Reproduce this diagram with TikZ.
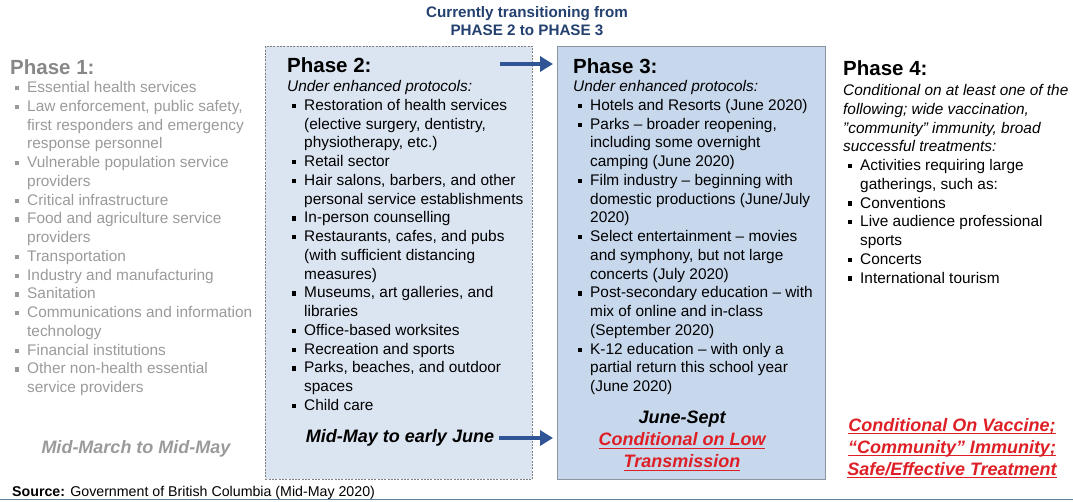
\documentclass[tikz,border=0pt]{standalone}
\usepackage{fontspec}
\setmainfont{Liberation Sans}
\usepackage{xcolor}
\usetikzlibrary{arrows.meta, positioning, calc}

\definecolor{phaseonegray}{HTML}{9A9A9A}
\definecolor{phaseonehead}{HTML}{878787}
\definecolor{titleblue}{HTML}{23406F}
\definecolor{arrowblue}{HTML}{2F5597}
\definecolor{boxtwofill}{HTML}{DBE4F1}
\definecolor{boxthreefill}{HTML}{C7D7EC}
\definecolor{boxthreeline}{HTML}{8C96A3}
\definecolor{condred}{HTML}{DE2026}
\definecolor{rulecol}{HTML}{5E7F9E}

\newsavebox{\ulbox}
\newcommand{\redul}[1]{\sbox{\ulbox}{#1}\rlap{\rule[-2.8pt]{\wd\ulbox}{1.1pt}}\usebox{\ulbox}}
\newcommand{\sqbul}{\hspace*{5pt}\makebox[12pt][l]{\rule[2.4pt]{4.2pt}{4.2pt}}}
\newcommand{\indl}{\hspace*{17pt}}

\begin{document}
\begin{tikzpicture}[x=1pt, y=-1pt,
    phasehead/.style={anchor=base west, inner sep=0pt, font=\bfseries\fontsize{20.5}{24}\selectfont},
    phasebody/.style={anchor=north west, inner sep=0pt, align=left, font=\fontsize{15.4}{18.75}\selectfont},
    datelabel/.style={inner sep=0pt, align=center, font=\bfseries\itshape\fontsize{18}{22}\selectfont},
    phasearrow/.style={arrowblue, line width=3.8pt, -{Triangle[length=13pt, width=15pt]}}]
      \useasboundingbox (0, 0) rectangle (1073, 501);

      \node[titleblue, align=center, inner sep=0pt, font=\bfseries\fontsize{15.2}{18}\selectfont] (title) at (527, 21.5)
        {Currently transitioning from\\PHASE 2 to PHASE 3};

      \node[draw=gray, dash pattern=on 2pt off 1.3pt, line width=0.8pt, fill=boxtwofill,
            minimum width=267pt, minimum height=433pt, anchor=north west, inner sep=0pt] (box2) at (265, 46) {};
      \node[draw=boxthreeline, line width=1.2pt, fill=boxthreefill,
            minimum width=268pt, minimum height=433pt, anchor=north west, inner sep=0pt] (box3) at (557, 46) {};

      % Phase 1
      \node[phasehead, phaseonehead] (head1) at (10, 74) {Phase 1:};
      \node[phasebody, phaseonegray] (body1) at (10, 81.3) {%
        \sqbul Essential health services\\
        \sqbul Law enforcement, public safety,\\
        \indl first responders and emergency\\
        \indl response personnel\\
        \sqbul Vulnerable population service\\
        \indl providers\\
        \sqbul Critical infrastructure\\
        \sqbul Food and agriculture service\\
        \indl providers\\
        \sqbul Transportation\\
        \sqbul Industry and manufacturing\\
        \sqbul Sanitation\\
        \sqbul Communications and information\\
        \indl technology\\
        \sqbul Financial institutions\\
        \sqbul Other non-health essential\\
        \indl service providers};
      \node[datelabel, phaseonegray] (date1) at (136, 449) {Mid-March to Mid-May};

      % Phase 2
      \node[phasehead] (head2) at (287, 72) {Phase 2:};
      \node[phasebody] (body2) at (287, 80.3) {%
        {\itshape Under enhanced protocols:}\\
        \sqbul Restoration of health services\\
        \indl (elective surgery, dentistry,\\
        \indl physiotherapy, etc.)\\
        \sqbul Retail sector\\
        \sqbul Hair salons, barbers, and other\\
        \indl personal service establishments\\
        \sqbul In-person counselling\\
        \sqbul Restaurants, cafes, and pubs\\
        \indl (with sufficient distancing\\
        \indl measures)\\
        \sqbul Museums, art galleries, and\\
        \indl libraries\\
        \sqbul Office-based worksites\\
        \sqbul Recreation and sports\\
        \sqbul Parks, beaches, and outdoor\\
        \indl spaces\\
        \sqbul Child care};
      \node[datelabel] (date2) at (400, 438) {Mid-May to early June};

      % Phase 3
      \node[phasehead] (head3) at (573, 73) {Phase 3:};
      \node[phasebody] (body3) at (573, 80.3) {%
        {\itshape Under enhanced protocols:}\\
        \sqbul Hotels and Resorts (June 2020)\\
        \sqbul Parks – broader reopening,\\
        \indl including some overnight\\
        \indl camping (June 2020)\\
        \sqbul Film industry – beginning with\\
        \indl domestic productions (June/July\\
        \indl 2020)\\
        \sqbul Select entertainment – movies\\
        \indl and symphony, but not large\\
        \indl concerts (July 2020)\\
        \sqbul Post-secondary education – with\\
        \indl mix of online and in-class\\
        \indl (September 2020)\\
        \sqbul K-12 education – with only a\\
        \indl partial return this school year\\
        \indl (June 2020)};
      \node[datelabel] (date3) at (682, 441)
        {June-Sept\\\textcolor{condred}{\redul{Conditional on Low}}\\\textcolor{condred}{\redul{Transmission}}};

      % Phase 4
      \node[phasehead] (head4) at (843, 75) {Phase 4:};
      \node[phasebody] (body4) at (843, 84.2) {%
        {\itshape Conditional on at least one of the}\\
        {\itshape following; wide vaccination,}\\
        {\itshape \symbol{34}community\symbol{34} immunity, broad}\\
        {\itshape successful treatments:}\\
        \sqbul Activities requiring large\\
        \indl gatherings, such as:\\
        \sqbul Conventions\\
        \sqbul Live audience professional\\
        \indl sports\\
        \sqbul Concerts\\
        \sqbul International tourism};
      \node[datelabel, condred] (date4) at (952, 448)
        {\redul{Conditional On Vaccine;}\\\redul{“Community” Immunity;}\\\redul{Safe/Effective Treatment}};

      \coordinate (trans) at (500, 64);
      \draw[phasearrow] (trans) -- ([xshift=-4pt]box3.west |- trans);
      \draw[phasearrow] ([xshift=5pt]date2.east) -- ([xshift=-4pt]box3.west |- date2.east);

      \node[anchor=base west, inner sep=0pt, font=\fontsize{14.2}{16}\selectfont] (source) at (12, 496.5)
        {\textbf{Source:} Government of British Columbia (Mid-May 2020)};
      \coordinate (ruleleft) at (0, 499.8);
      \coordinate (ruleright) at (1073, 499.8);
      \draw[rulecol, line width=1.2pt] (ruleleft) -- (ruleright);
    \end{tikzpicture}
\end{document}
